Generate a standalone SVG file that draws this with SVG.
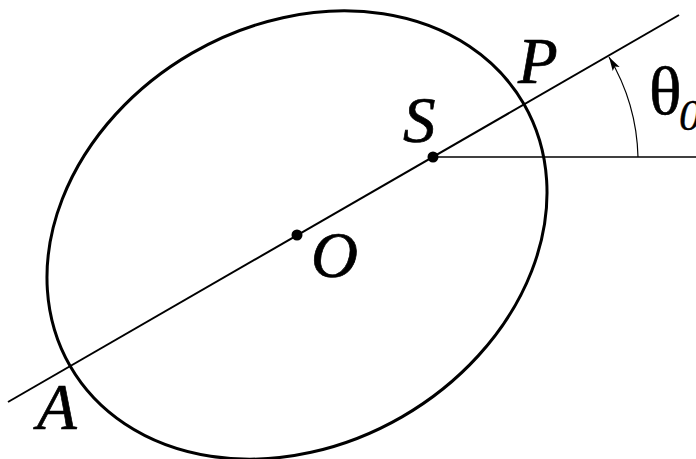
<svg xmlns="http://www.w3.org/2000/svg" width="696" height="459" viewBox="0 0 696 459">
<style>
.lbl{font-family:"Liberation Serif","Times New Roman",serif;font-style:italic;font-size:65px;fill:#000;stroke:#000;stroke-width:0.7}
.greek{font-family:"Liberation Serif","Times New Roman",serif;font-size:68px;fill:#000;stroke:#000;stroke-width:0.6}
.sub{font-family:"Liberation Serif","Times New Roman",serif;font-style:italic;font-size:44px;fill:#000;stroke:#000;stroke-width:0.4}
.thin{fill:none;stroke:#000}
</style>
<defs>
<marker id="arr" markerUnits="userSpaceOnUse" markerWidth="16" markerHeight="10" refX="14" refY="4" orient="auto">
<path d="M0,0 L14,4 L0,8 L3,4 Z" fill="#000"/>
</marker>
</defs>
<rect width="696" height="459" fill="#fff"/>
<g id="orbit">
<ellipse cx="297" cy="235" rx="262" ry="210" transform="rotate(-30 297 235)" fill="none" stroke="#000" stroke-width="3"/>
</g>
<g id="connectors">
<line class="thin" x1="8" y1="402" x2="679" y2="15" stroke-width="2"/>
<line class="thin" x1="433" y1="157" x2="696" y2="157" stroke-width="1.4"/>
<path class="thin" d="M638,157 A205,205 0 0 0 609,57" stroke-width="1.2" marker-end="url(#arr)"/>
</g>
<g id="O"><circle cx="297" cy="235" r="5.5" fill="#000"/><text class="lbl" x="311" y="277">O</text></g>
<g id="S"><circle cx="433" cy="157" r="5.5" fill="#000"/><text class="lbl" x="403" y="142">S</text></g>
<g id="P"><text class="lbl" x="518" y="83">P</text></g>
<g id="A"><text class="lbl" x="37" y="429">A</text></g>
<g id="theta"><text class="greek" x="649" y="114">θ</text><text class="sub" x="679" y="130">0</text></g>
</svg>
